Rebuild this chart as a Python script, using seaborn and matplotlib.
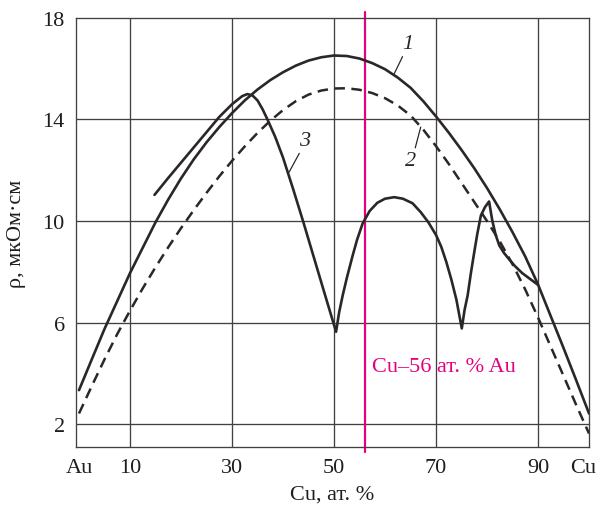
import matplotlib
matplotlib.use("Agg")
import matplotlib.pyplot as plt
import matplotlib.transforms as mtransforms
import seaborn as sns
import pandas as pd

# Resistivity of Cu–Au alloys vs. copper content
# Curve 1 (solid): quenched, disordered alloys
cu1 = [0, 2.5, 5, 7.5, 10, 12.5, 15, 17.5, 20, 22.5, 25, 27.5, 30, 32.5, 35,
       37.5, 40, 42.5, 45, 47.5, 50, 52.5, 55, 57.5, 60, 62.5, 65, 67.5, 70,
       72.5, 75, 77.5, 80, 82.5, 85, 87.5, 90, 92.5, 95, 97.5, 100]
rho1 = [3.34, 4.55, 5.75, 6.85, 7.95, 8.95, 9.95, 10.85, 11.68, 12.43, 13.1,
        13.7, 14.25, 14.75, 15.18, 15.55, 15.86, 16.12, 16.32, 16.45, 16.52,
        16.5, 16.4, 16.22, 15.98, 15.65, 15.25, 14.72, 14.12, 13.48, 12.8,
        12.08, 11.3, 10.46, 9.56, 8.6, 7.5, 6.25, 5.0, 3.72, 2.42]

# Curve 2 (dashed)
cu2 = [0, 2.5, 5, 7.5, 10, 12.5, 15, 17.5, 20, 22.5, 25, 27.5, 30, 32.5, 35,
       37.5, 40, 42.5, 45, 47.5, 50, 52.5, 55, 57.5, 60, 62.5, 65, 67.5, 70,
       72.5, 75, 77.5, 80, 82.5, 85, 87.5, 90, 92.5, 95, 97.5, 100]
rho2 = [2.42, 3.5, 4.55, 5.55, 6.47, 7.35, 8.18, 8.97, 9.72, 10.43, 11.11,
        11.76, 12.37, 12.94, 13.47, 13.95, 14.37, 14.72, 14.98, 15.14, 15.22,
        15.23, 15.17, 15.04, 14.84, 14.55, 14.16, 13.6, 12.95, 12.25, 11.5,
        10.75, 10.0, 9.2, 8.3, 7.3, 6.2, 5.05, 3.9, 2.75, 1.63]

# Curve 3 (solid): annealed, ordered alloys
cu3 = [14.8, 17.5, 20, 22.5, 25, 27.5, 30, 32, 33, 34, 35, 36, 37, 38.5, 40,
       42, 44, 46, 48, 50.4, 51.0, 51.7, 52.5, 53.6, 54.5, 55.6, 57, 58.5,
       60, 61.8, 63.5, 65.4, 67, 68.5, 70, 71, 72, 73, 74, 75.05, 75.6,
       76.2, 76.8, 77.5, 78.1, 78.8, 79.6, 80.4, 81.05, 81.7, 82.4, 83.3,
       84.3, 85.5, 86.9, 88.3, 89.9]
rho3 = [11.03, 11.7, 12.3, 12.9, 13.5, 14.1, 14.6, 14.92, 15.0, 14.95,
        14.75, 14.4, 13.98, 13.3, 12.5, 11.25, 9.95, 8.6, 7.25, 5.64, 6.4,
        7.07, 7.75, 8.6, 9.25, 9.9, 10.4, 10.72, 10.88, 10.94, 10.88, 10.7,
        10.35, 9.95, 9.45, 9.0, 8.4, 7.7, 6.9, 5.77, 6.5, 7.07, 7.9, 8.78,
        9.5, 10.22, 10.55, 10.77, 10.0, 9.45, 9.04, 8.75, 8.5, 8.22, 7.95,
        7.74, 7.5]

x_ticks = [0, 10, 30, 50, 70, 90, 100]
x_tick_labels = ["Au", "10", "30", "50", "70", "90", "Cu"]
y_ticks = [2, 6, 10, 14, 18]
alloy_cu = 56
alloy_label = "Cu–56 ат. % Au"

sns.set_theme(style="white")
plt.rcParams["font.family"] = ["Liberation Serif", "STIXGeneral",
                               "DejaVu Serif"]

ink = "#2b2727"
grid_c = "#454040"
magenta = "#E4007F"
txt = "#1e1e1e"

fig = plt.figure(figsize=(5.98, 5.06), dpi=100)
ax = fig.add_axes([0.127, 0.1146, 0.858, 0.848])

df1 = pd.DataFrame({"cu": cu1, "rho": rho1})
df2 = pd.DataFrame({"cu": cu2, "rho": rho2})
df3 = pd.DataFrame({"cu": cu3, "rho": rho3})

ax.axvline(alloy_cu, ymin=-0.012, ymax=1.014, color=magenta, lw=1.6,
           clip_on=False, zorder=2)

sns.lineplot(data=df1, x="cu", y="rho", ax=ax, color=ink, lw=1.9,
             sort=False, estimator=None, zorder=3)
sns.lineplot(data=df2, x="cu", y="rho", ax=ax, color=ink, lw=1.8,
             sort=False, estimator=None, zorder=3,
             linestyle=(0, (4.2, 2.6)))
sns.lineplot(data=df3, x="cu", y="rho", ax=ax, color=ink, lw=1.9,
             sort=False, estimator=None, zorder=3)

ax.set_xlim(-0.6, 99.9)
ax.set_ylim(1.1, 18)
ax.set_xticks(x_ticks)
ax.set_xticklabels(x_tick_labels)
ax.set_yticks(y_ticks)
ax.tick_params(axis="both", length=0, labelsize=16, colors=txt)
ax.tick_params(axis="x", pad=8)
ax.tick_params(axis="y", pad=8)

# nudge the right-most "Cu" label inward so it stays on the canvas
last = ax.get_xticklabels()[-1]
last.set_transform(last.get_transform() + mtransforms.ScaledTranslation(
    -6 / 100, 0, fig.dpi_scale_trans))

# grid lines at interior ticks only
for gx in [10, 30, 50, 70, 90]:
    ax.axvline(gx, color=grid_c, lw=0.95, zorder=1)
for gy in [2, 6, 10, 14]:
    ax.axhline(gy, color=grid_c, lw=0.95, zorder=1)
for s in ax.spines.values():
    s.set_color(grid_c)
    s.set_linewidth(0.95)
    s.set_visible(True)

ax.set_xlabel("Cu, ат. %", fontsize=16, color=txt, labelpad=5)
ax.set_ylabel("ρ, мкОм·см", fontsize=16, color=txt, labelpad=12)

ax.text(57.5, 4.26, alloy_label, color=magenta, fontsize=16,
        ha="left", va="center")

# curve numbers with leader lines
lead = dict(arrowstyle="-", color=ink, lw=0.9, shrinkA=0, shrinkB=0)
ax.annotate("1", xy=(61.8, 15.8), xytext=(64.4, 16.98), fontsize=16,
            style="italic", ha="center", va="center", color=ink,
            arrowprops=dict(lead, relpos=(0.2, 0.0)))
ax.annotate("2", xy=(67.0, 13.7), xytext=(65.1, 12.38), fontsize=16,
            style="italic", ha="center", va="center", color=ink,
            arrowprops=dict(lead, relpos=(0.8, 1.0)))
ax.annotate("3", xy=(41.2, 11.93), xytext=(44.2, 13.17), fontsize=16,
            style="italic", ha="center", va="center", color=ink,
            arrowprops=dict(lead, relpos=(0.2, 0.0)))

fig.savefig("out.png", dpi=100)
